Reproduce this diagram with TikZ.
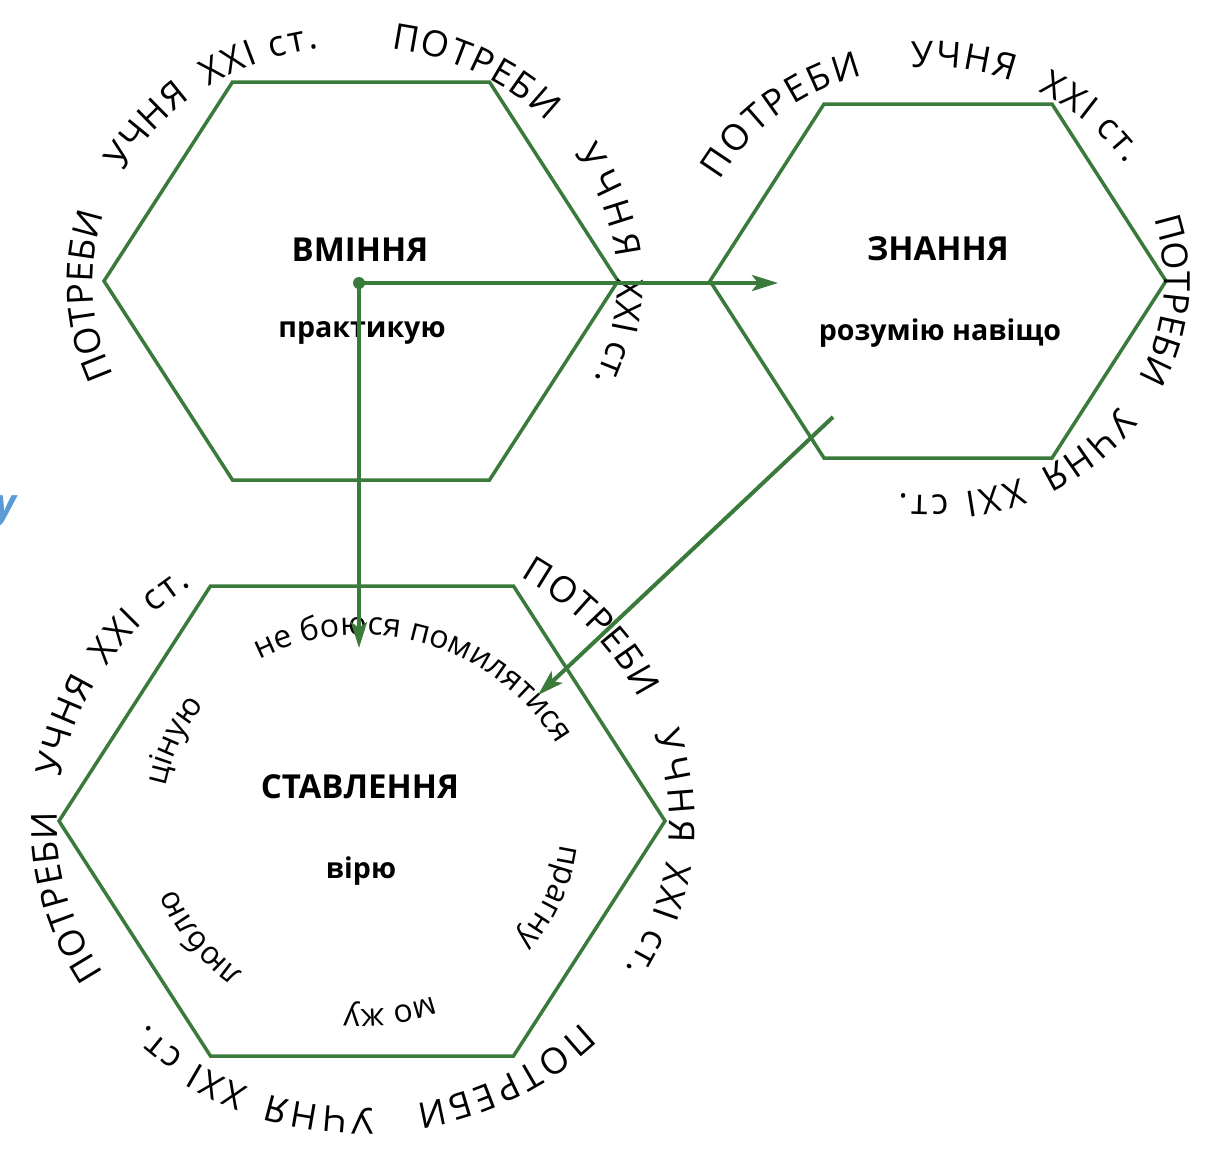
\documentclass[tikz,border=0pt]{standalone}
\usepackage{fontspec}
\setmainfont{Open Sans}
\usetikzlibrary{decorations.text,arrows.meta}
\definecolor{hexgreen}{RGB}{58,122,58}
\definecolor{cutblue}{RGB}{91,155,213}
\newcommand{\ringfont}{\fontsize{18}{21}\selectfont}
\newcommand{\wordfont}{\fontsize{16}{19}\selectfont}
\tikzset{hexline/.style={draw=hexgreen,line width=1.75pt},
  link/.style={draw=hexgreen,line width=2pt,-{Stealth[length=13pt,width=8pt,inset=3pt]}},
  ringtext/.style={decorate,decoration={text along path,text/.expanded={|\noexpand\ringfont|#1},text align=fit to path}},
  wordtext/.style={decorate,decoration={text along path,text/.expanded={|\noexpand\wordfont|#1},text align=center}},
  title/.style={inner sep=0pt,font=\bfseries\fontsize{16.5}{19}\selectfont},
  sub/.style={inner sep=0pt,font=\bfseries\fontsize{14.3}{17}\selectfont}}

\begin{document}
\begin{tikzpicture}[x=0.5pt,y=0.5pt]
\useasboundingbox (0,0) rectangle (1223,-1148);
\coordinate (r1) at (355,-283);\coordinate (r2) at (928,-281);\coordinate (r3) at (363,-822);
\coordinate (w3) at (362,-821);\coordinate (p3) at (362,-863);
\foreach \cx/\cy/\w/\h in {361/-281/257/199,938/-281/228/177,362/-821/303/235}
  {\draw[hexline] (\cx-\w,\cy)--(\cx-\w/2,\cy+\h)--(\cx+\w/2,\cy+\h)--(\cx+\w,\cy)--(\cx+\w/2,\cy-\h)--(\cx-\w/2,\cy-\h)--cycle;}
% ring words
\foreach \a/\b/\word in {203/164/ПОТРЕБИ,152/129/УЧНЯ,124/98/XXI ст.,82/43/ПОТРЕБИ,33/6/УЧНЯ,1/-24/XXI ст.}
  {\path[ringtext=\word] ([shift={(\a:262 and 237)}]r1) arc[start angle=\a,end angle=\b,x radius=262,y radius=237];}
\foreach \a/\b/\word in {152/106/ПОТРЕБИ,94/69/УЧНЯ,62/33/XXI ст.,17/-26/ПОТРЕБИ,-36/-62/УЧНЯ,-67/-97/XXI ст.}
  {\path[ringtext=\word] ([shift={(\a:236 and 214)}]r2) arc[start angle=\a,end angle=\b,x radius=236,y radius=214];}
\foreach \a/\b/\word in {212/178/ПОТРЕБИ,171/151/УЧНЯ,147/124/XXI ст.,59/25.5/ПОТРЕБИ,18/-4/УЧНЯ,-8/-31/XXI ст.,-44.5/-80/ПОТРЕБИ,-88/-108/УЧНЯ,-112/-135/XXI ст.}
  {\path[ringtext=\word] ([shift={(\a:306 and 286)}]r3) arc[start angle=\a,end angle=\b,x radius=306,y radius=286];}
% inner words
\foreach \a/\b/\word in {186/126/ціную,7/-53/прагну,-52/-112/мо жу,-113/-173/люблю}
  {\path[wordtext=\word] ([shift={(\a:200 and 188)}]w3) arc[start angle=\a,end angle=\b,x radius=200,y radius=188];}
\path[wordtext={не боюся помилятися}] ([shift={(124:228)}]p3) arc[start angle=124,end angle=24,radius=228];
\node[title] (vmin) at (360,-250) {ВМІННЯ};
\node[sub] (prak) at (362,-333) {практикую};
\node[title] (znan) at (938,-249) {ЗНАННЯ};
\node[sub] (rozu) at (940,-333) {розумію навіщо};
\node[title] (stav) at (360,-787) {СТАВЛЕННЯ};
\node[sub] (viru) at (361,-871) {вірю};
\node[anchor=base east,inner sep=0pt,text=cutblue,font=\bfseries\itshape\fontsize{20}{20}\selectfont] (cutu) at (17,-517) {у};
\coordinate (dot) at (359,-283);\coordinate (ztip) at (778,-283);\coordinate (stip) at (359,-648);
\coordinate (zfoot) at (833,-417);\coordinate (ptip) at (538,-695);
\draw[link] (dot)--(ztip);
\draw[link] (dot)--(stip);
\draw[link] (zfoot)--(ptip);
\fill[hexgreen] (dot) circle[radius=6];
\end{tikzpicture}
\end{document}
